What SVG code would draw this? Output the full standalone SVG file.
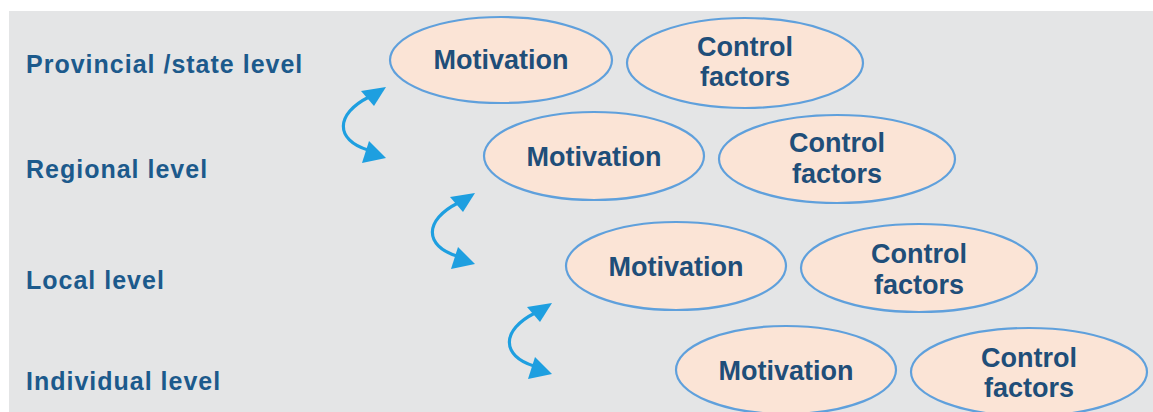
<svg xmlns="http://www.w3.org/2000/svg" width="1153" height="412" viewBox="0 0 1153 412">
<style>
.bg{fill:#e4e5e6}
.ell{fill:#fbe4d6;stroke:#5fa0dc;stroke-width:2.2}
.t{font-family:"Liberation Sans",Arial,sans-serif;font-weight:bold;font-size:27px;fill:#1f4e79;text-anchor:middle}
.lvl{font-family:"Liberation Sans",Arial,sans-serif;font-weight:bold;font-size:25px;fill:#1c5a8c;letter-spacing:1px}
.arr{fill:none;stroke:#1e9fe0;stroke-width:3.2}
.head{fill:#1e9fe0}
</style>
<defs>
<g id="darrow">
<path class="arr" d="M369 97 C335 114,335 140,368 150"/>
<polygon class="head" points="386,87 361,91 374,106"/>
<polygon class="head" points="386,158 369,141 362,163"/>
</g>
</defs>
<rect width="1153" height="412" fill="#ffffff"/>
<rect class="bg" x="9" y="11" width="1144" height="401"/>
<g id="labels">
<text class="lvl" x="26" y="73">Provincial /state level</text>
<text class="lvl" x="26" y="178">Regional level</text>
<text class="lvl" x="26" y="289">Local level</text>
<text class="lvl" x="26" y="390">Individual level</text>
</g>
<g id="connectors">
<use href="#darrow"/>
<use href="#darrow" transform="translate(89,106)"/>
<use href="#darrow" transform="translate(166,216)"/>
</g>
<g id="mot1"><ellipse class="ell" cx="501" cy="60" rx="111" ry="43"/><text class="t" x="501" y="69">Motivation</text></g>
<g id="ctl1"><ellipse class="ell" cx="745" cy="63" rx="118" ry="45"/><text class="t" x="745" y="56">Control</text><text class="t" x="745" y="86">factors</text></g>
<g id="mot2"><ellipse class="ell" cx="594" cy="156" rx="110" ry="44"/><text class="t" x="594" y="166">Motivation</text></g>
<g id="ctl2"><ellipse class="ell" cx="837" cy="159" rx="118" ry="44"/><text class="t" x="837" y="152">Control</text><text class="t" x="837" y="183">factors</text></g>
<g id="mot3"><ellipse class="ell" cx="676" cy="266" rx="110" ry="44"/><text class="t" x="676" y="276">Motivation</text></g>
<g id="ctl3"><ellipse class="ell" cx="919" cy="268" rx="118" ry="44"/><text class="t" x="919" y="263">Control</text><text class="t" x="919" y="294">factors</text></g>
<g id="mot4"><ellipse class="ell" cx="786" cy="370" rx="110" ry="44"/><text class="t" x="786" y="380">Motivation</text></g>
<g id="ctl4"><ellipse class="ell" cx="1029" cy="372" rx="118" ry="44"/><text class="t" x="1029" y="367">Control</text><text class="t" x="1029" y="397">factors</text></g>
</svg>
